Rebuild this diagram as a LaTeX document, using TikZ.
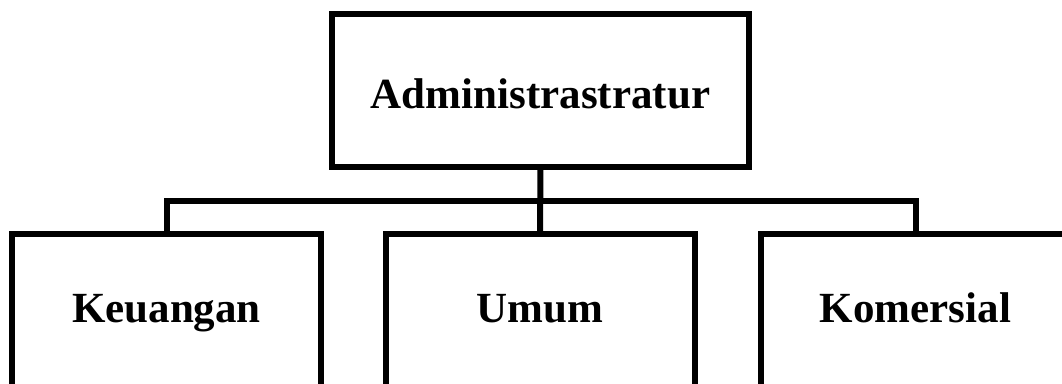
\documentclass[tikz,border=0pt]{standalone}
\usepackage{fontspec}
\setmainfont{Liberation Serif}
\usetikzlibrary{positioning}
\tikzset{
  unit/.style={draw, line width=6pt, outer sep=0pt, inner xsep=0pt, inner ysep=0pt,
    minimum width=309pt, text height=88pt, text depth=200pt,
    font=\fontsize{43}{50}\selectfont\bfseries},
  head/.style={unit, minimum width=417pt, text height=94pt, text depth=58.5pt},
  link/.style={line width=6pt}
}

\begin{document}
\begin{tikzpicture}[x=1pt,y=-1pt]
    \useasboundingbox (0,0) rectangle (1062,383);
    \clip (0,0) rectangle (1062,383);
    % top box
    \node[head, anchor=north] (admin) at (540.5,14) {Administrastratur};
    % units
    \node[unit, anchor=north] (keu) at (166.5,234) {Keuangan};
    \node[unit, anchor=north] (umum) at (540,234) {Umum};
    \node[unit, anchor=north] (kom) at (915.5,234) {Komersial};
    % lines
    \coordinate (bus) at (540.5,201);
    \draw[link] (admin.south) -- (umum.north);
    \draw[link] (keu.north) |- (bus) -| (kom.north);
\end{tikzpicture}
\end{document}
